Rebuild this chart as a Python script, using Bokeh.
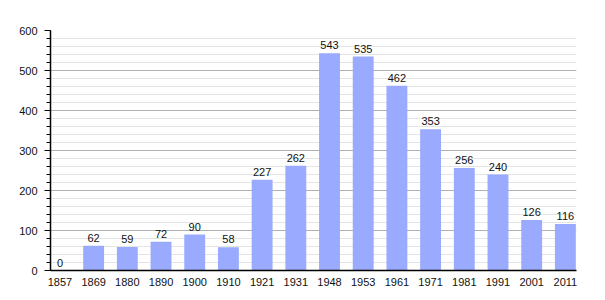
from bokeh.plotting import figure
from bokeh.models import ColumnDataSource, Range1d, FixedTicker, LabelSet
from bokeh.core.properties import value
from bokeh.embed import file_html
from bokeh.resources import INLINE

years = ["1857", "1869", "1880", "1890", "1900", "1910", "1921", "1931",
         "1948", "1953", "1961", "1971", "1981", "1991", "2001", "2011"]
population = [0, 62, 59, 72, 90, 58, 227, 262, 543, 535, 462, 353, 256, 240, 126, 116]

FONT = "Liberation Sans"
FSIZE = "11px"

xs = list(range(len(years)))
src = ColumnDataSource(dict(x=xs, top=population, lbl=[str(v) for v in population]))

p = figure(width=605, height=300, output_backend="svg", toolbar_location=None,
           x_range=Range1d(-0.28, len(years) - 1 + 0.33), y_range=Range1d(0, 600),
           min_border_left=50, min_border_right=29, min_border_top=30, min_border_bottom=30)
p.outline_line_color = None
p.background_fill_color = "white"

p.vbar(x="x", top="top", width=0.62, source=src, fill_color="#99aaff", line_color=None)

labels = LabelSet(x="x", y="top", text="lbl", source=src, text_align="center",
                  text_baseline="bottom", y_offset=4, text_font_size=value(FSIZE),
                  text_font=value(FONT), text_color="#111111")
p.add_layout(labels)

p.xaxis.ticker = FixedTicker(ticks=xs)
p.xaxis.major_label_overrides = {i: y for i, y in enumerate(years)}
p.xaxis.major_tick_line_color = None
p.xaxis.minor_tick_line_color = None
p.xaxis.axis_line_color = "black"
p.xaxis.axis_line_width = 1.5
p.xaxis.major_label_standoff = 1
p.xaxis.major_label_text_font = FONT
p.xaxis.major_label_text_font_size = FSIZE
p.xaxis.major_label_text_font_style = "normal"
p.xaxis.major_label_text_color = "#111111"

p.yaxis.ticker = FixedTicker(ticks=[0, 100, 200, 300, 400, 500, 600],
                             minor_ticks=list(range(0, 601, 20)))
p.yaxis.axis_line_color = "black"
p.yaxis.axis_line_width = 1.5
p.yaxis.major_tick_out = 6
p.yaxis.major_tick_in = 0
p.yaxis.minor_tick_out = 4
p.yaxis.minor_tick_in = 0
p.yaxis.major_tick_line_color = "black"
p.yaxis.minor_tick_line_color = "black"
p.yaxis.major_label_standoff = 7
p.yaxis.major_label_text_font = FONT
p.yaxis.major_label_text_font_size = FSIZE
p.yaxis.major_label_text_color = "#111111"

p.xgrid.grid_line_color = None
p.ygrid.grid_line_color = "#b0b0b0"
p.ygrid.minor_grid_line_color = "#e4e4e4"
p.ygrid.level = "underlay"

open("out.html", "w").write(file_html(p, INLINE))
